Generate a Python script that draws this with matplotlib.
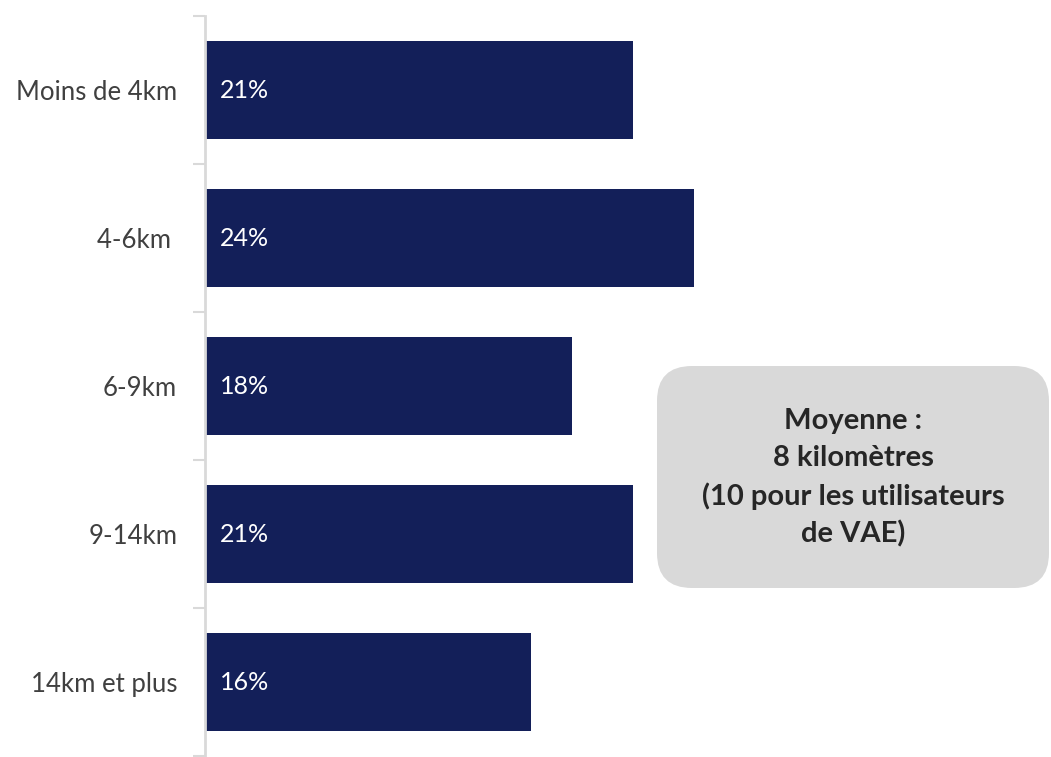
import matplotlib.pyplot as plt
from matplotlib.patches import FancyBboxPatch

categories = ["Moins de 4km", "4-6km ", "6-9km", "9-14km", "14km et plus"]
values = [21, 24, 18, 21, 16]
labels = ["21%", "24%", "18%", "21%", "16%"]
note = "Moyenne :\n8 kilomètres\n(10 pour les utilisateurs\nde VAE)"

navy = "#131f59"
grey = "#d9d9d9"

plt.rcParams["font.family"] = ["Lato", "DejaVu Sans"]

fig = plt.figure(figsize=(10.51, 7.57), dpi=100)
ax = fig.add_axes([205 / 1051, 1 / 757, 41 * 20.38 / 1051, 740 / 757])

ypos = range(len(categories))
ax.barh(ypos, values, height=0.66, color=navy)
for y, v, lab in zip(ypos, values, labels):
    ax.text(0.75, y, lab, color="white", va="center", ha="left", fontsize=18)

ax.set_xlim(0, 41)
ax.set_ylim(4.5, -0.5)
ax.set_yticks(list(ypos))
ax.set_yticklabels(categories, fontsize=18.5, color="#404040")
ax.tick_params(axis="y", length=0, pad=20)
ax.set_yticks([i - 0.5 for i in range(len(categories) + 1)], minor=True)
ax.tick_params(axis="y", which="minor", length=9, width=1.5, color=grey)
ax.set_xticks([])
for s in ["top", "right", "bottom"]:
    ax.spines[s].set_visible(False)
ax.spines["left"].set_color(grey)
ax.spines["left"].set_linewidth(2)

box = FancyBboxPatch((6.57 + 0.35, 1.69 + 0.35), 3.92 - 0.7, 2.22 - 0.7,
                     boxstyle="round,pad=0.35", transform=fig.dpi_scale_trans,
                     facecolor=grey, edgecolor="none")
fig.add_artist(box)
fig.text(8.53 / 10.51, 2.79 / 7.57, note, ha="center", va="center",
         fontsize=21, fontweight="bold", color="#262626", linespacing=1.5)

fig.savefig("out.png", dpi=100)
